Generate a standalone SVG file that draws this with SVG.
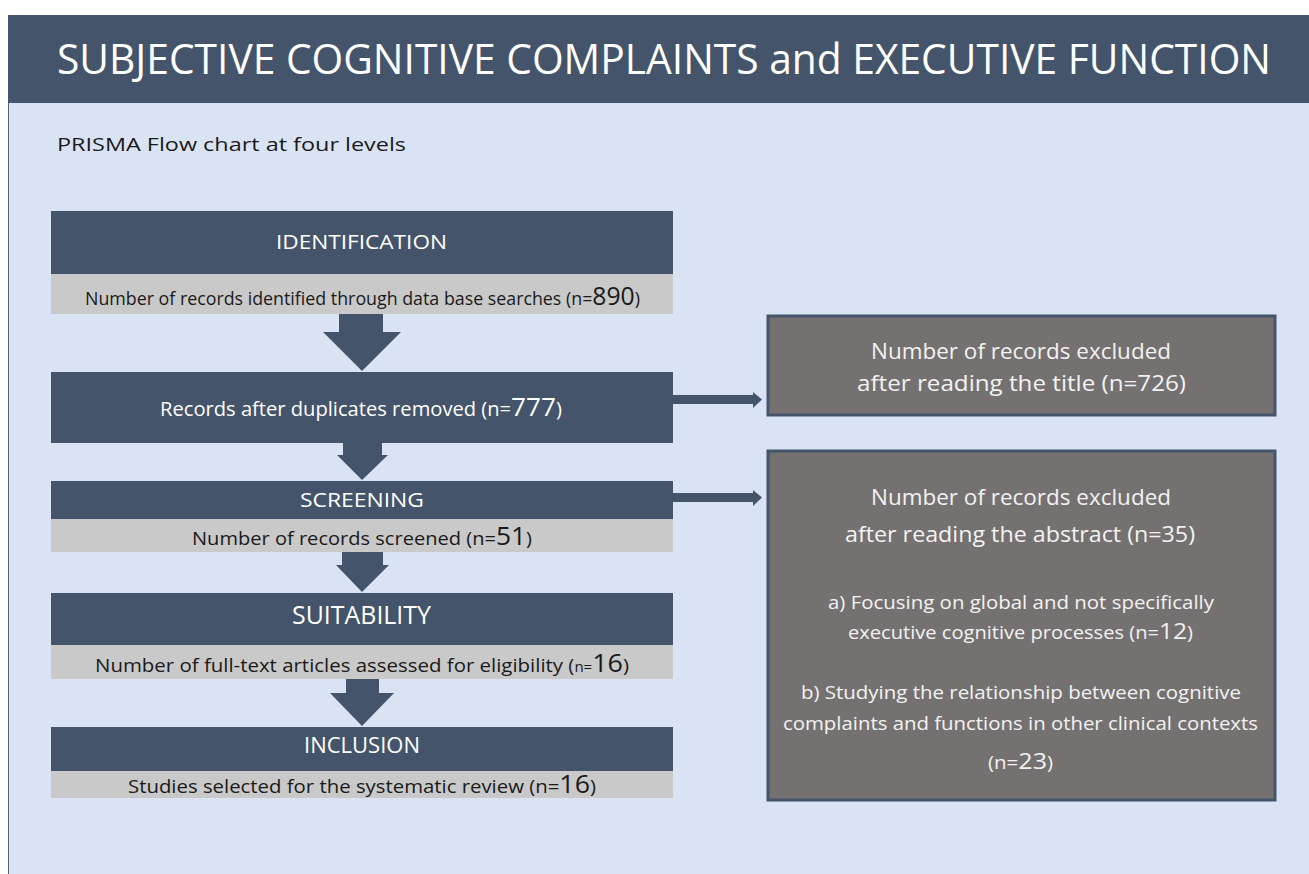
<svg xmlns="http://www.w3.org/2000/svg" width="1309" height="874" viewBox="0 0 1309 874">
<style>
.dark{fill:#44546a}
.band{fill:#c9c9c9}
.excl{fill:#767171;stroke:#44546a;stroke-width:3}
.conn{fill:#44546a}
text{font-family:"Open Sans","Liberation Sans",sans-serif}
.hw{fill:#ffffff;text-anchor:start}
.bk{fill:#1a1a1a;text-anchor:start}
.ew{fill:#f2f2f2;text-anchor:start}
</style>
<rect x="0" y="0" width="1309" height="874" fill="#ffffff"/>
<rect x="8" y="103" width="1301" height="771" fill="#dae3f3"/>
<line x1="8.5" y1="15" x2="8.5" y2="874" stroke="#5a6270" stroke-width="1"/>
<g id="header">
<rect x="8" y="15" width="1301" height="88" class="dark"/>
<text class="hw" x="57" y="74" font-size="42" textLength="1214" lengthAdjust="spacingAndGlyphs">SUBJECTIVE COGNITIVE COMPLAINTS and EXECUTIVE FUNCTION</text>
</g>
<text id="subtitle" class="bk" x="57" y="151" font-size="19" textLength="349" lengthAdjust="spacingAndGlyphs">PRISMA Flow chart at four levels</text>
<g id="identification">
<rect x="51" y="211" width="622" height="63" class="dark"/>
<rect x="51" y="274" width="622" height="40" class="band"/>
<text class="hw" x="276" y="249" font-size="20" textLength="171" lengthAdjust="spacingAndGlyphs">IDENTIFICATION</text>
<text class="bk" x="85" y="305" font-size="18" textLength="555" lengthAdjust="spacingAndGlyphs">Number of records identified through data base searches (n=<tspan font-size="25">890</tspan>)</text>
</g>
<g id="duplicates">
<rect x="51" y="372" width="622" height="71" class="dark"/>
<text class="hw" x="160" y="416" font-size="20" textLength="402" lengthAdjust="spacingAndGlyphs">Records after duplicates removed (n=<tspan font-size="26">777</tspan>)</text>
</g>
<g id="screening">
<rect x="51" y="481" width="622" height="38" class="dark"/>
<rect x="51" y="519" width="622" height="33" class="band"/>
<text class="hw" x="300" y="507" font-size="20" textLength="124" lengthAdjust="spacingAndGlyphs">SCREENING</text>
<text class="bk" x="192" y="545" font-size="19" textLength="340" lengthAdjust="spacingAndGlyphs">Number of records screened (n=<tspan font-size="25">51</tspan>)</text>
</g>
<g id="suitability">
<rect x="51" y="593" width="622" height="52" class="dark"/>
<rect x="51" y="645" width="622" height="34" class="band"/>
<text class="hw" x="292" y="624" font-size="25" textLength="139" lengthAdjust="spacingAndGlyphs">SUITABILITY</text>
<text class="bk" x="95" y="672" font-size="19" textLength="534" lengthAdjust="spacingAndGlyphs">Number of full-text articles assessed for eligibility (<tspan font-size="14">n=</tspan><tspan font-size="25">16</tspan>)</text>
</g>
<g id="inclusion">
<rect x="51" y="727" width="622" height="44" class="dark"/>
<rect x="51" y="771" width="622" height="27" class="band"/>
<text class="hw" x="304" y="753" font-size="22" textLength="116" lengthAdjust="spacingAndGlyphs">INCLUSION</text>
<text class="bk" x="128" y="793" font-size="19" textLength="468" lengthAdjust="spacingAndGlyphs">Studies selected for the systematic review (n=<tspan font-size="25">16</tspan>)</text>
</g>
<g id="excluded-title">
<rect x="768" y="316" width="507" height="99" class="excl"/>
<text class="ew" x="871" y="359" font-size="21" textLength="300" lengthAdjust="spacingAndGlyphs">Number of records excluded</text>
<text class="ew" x="857" y="391" font-size="21" textLength="329" lengthAdjust="spacingAndGlyphs">after reading the title  (n=726)</text>
</g>
<g id="excluded-abstract">
<rect x="768" y="451" width="507" height="349" class="excl"/>
<text class="ew" x="871" y="505" font-size="21" textLength="300" lengthAdjust="spacingAndGlyphs">Number of records excluded</text>
<text class="ew" x="845" y="542" font-size="21" textLength="350" lengthAdjust="spacingAndGlyphs">after reading the abstract (n=35)</text>
<text class="ew" x="828" y="609" font-size="18" textLength="386" lengthAdjust="spacingAndGlyphs">a) Focusing on global and not specifically</text>
<text class="ew" x="848" y="639" font-size="18" textLength="345" lengthAdjust="spacingAndGlyphs">executive  cognitive processes  (n=<tspan font-size="22">12</tspan>)</text>
<text class="ew" x="801" y="699" font-size="18" textLength="440" lengthAdjust="spacingAndGlyphs">b) Studying the relationship between cognitive</text>
<text class="ew" x="783" y="730" font-size="18" textLength="475" lengthAdjust="spacingAndGlyphs">complaints  and functions in other clinical contexts</text>
<text class="ew" x="988" y="769" font-size="18" textLength="65" lengthAdjust="spacingAndGlyphs">(n=<tspan font-size="22">23</tspan>)</text>
</g>
<g id="connectors">
<polygon class="conn" points="339,314 383,314 383,332 401,332 362,371 323,332 339,332"/>
<polygon class="conn" points="343,443 382,443 382,455 388,455 362,480 337,455 343,455"/>
<polygon class="conn" points="342,552 383,552 383,565 389,565 362,592 336,565 342,565"/>
<polygon class="conn" points="346,679 379,679 379,693 394,693 362,726 330,693 346,693"/>
<polygon class="conn" points="673,395 753,395 753,392 762,399.5 753,408 753,404 673,404"/>
<polygon class="conn" points="673,493 753,493 753,490 762,497.5 753,506 753,502 673,502"/>
</g>
</svg>
